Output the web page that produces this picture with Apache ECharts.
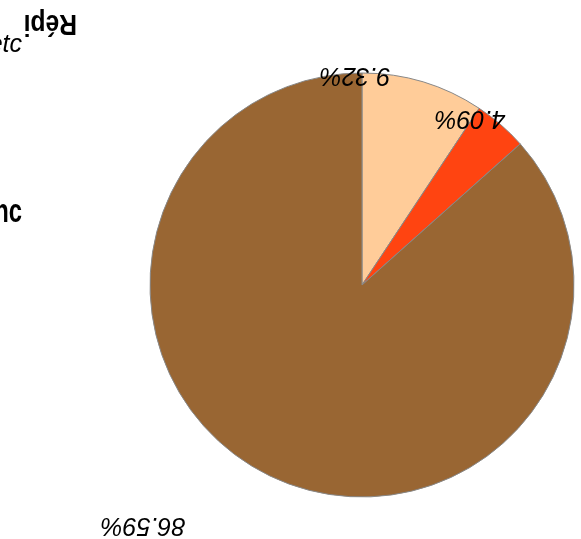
<!DOCTYPE html>
<html lang="fr">
<head>
<meta charset="UTF-8">
<title>Répartition</title>
<script src="https://cdn.jsdelivr.net/npm/echarts@6/dist/echarts.min.js"></script>
</head>
<body style="margin:0">
<div id="main" style="width:581px;height:539px"></div>
<script>
    var chart = echarts.init(document.getElementById('main'));

    // données du camembert
    var categories = ['A', 'B', 'C'];
    var values = [9.32, 4.09, 86.59];
    var colors = ['#ffcc99', '#ff4411', '#996633'];

    var pieData = categories.map(function (c, i) {
        return { name: c, value: values[i], itemStyle: { color: colors[i] } };
    });

    var option = {
        backgroundColor: '#fff',
        animation: false,
        graphic: [
            // titre à l'envers, coupé à gauche
            { type: 'text', x: 77, y: 8, rotation: Math.PI, scaleX: 0.85,
              style: { text: 'Répi', font: 'bold 29px "Liberation Sans"', fill: '#000', textAlign: 'left', textVerticalAlign: 'bottom' } },
            { type: 'text', x: 22, y: 58,
              style: { text: 'etc', font: 'italic 25px "Liberation Sans"', fill: '#000', textAlign: 'right', textVerticalAlign: 'bottom' } },
            { type: 'text', x: 22, y: 230, scaleX: 0.7,
              style: { text: 'Mnc', font: 'bold 34px "Liberation Sans"', fill: '#000', textAlign: 'right', textVerticalAlign: 'bottom' } }
        ],
        series: [{
            type: 'pie',
            center: [362, 285],
            radius: 212,
            startAngle: 90,
            clockwise: true,
            itemStyle: { borderColor: '#888', borderWidth: 1 },
            label: {
                show: true,
                position: 'outside',
                formatter: function (p) { return p.value.toFixed(2) + '%'; },
                rotate: 180,
                fontFamily: 'Liberation Sans',
                fontStyle: 'italic',
                fontSize: 25,
                color: '#000'
            },
            labelLine: { show: false },
            labelLayout: function (p) {
                var pos = [[355, 75], [470, 118], [143, 525]];
                return { x: pos[p.dataIndex][0], y: pos[p.dataIndex][1], align: 'center', verticalAlign: 'middle', rotate: 180 };
            },
            emphasis: { disabled: true },
            data: pieData
        }]
    };
    chart.setOption(option);
</script>
</body>
</html>
